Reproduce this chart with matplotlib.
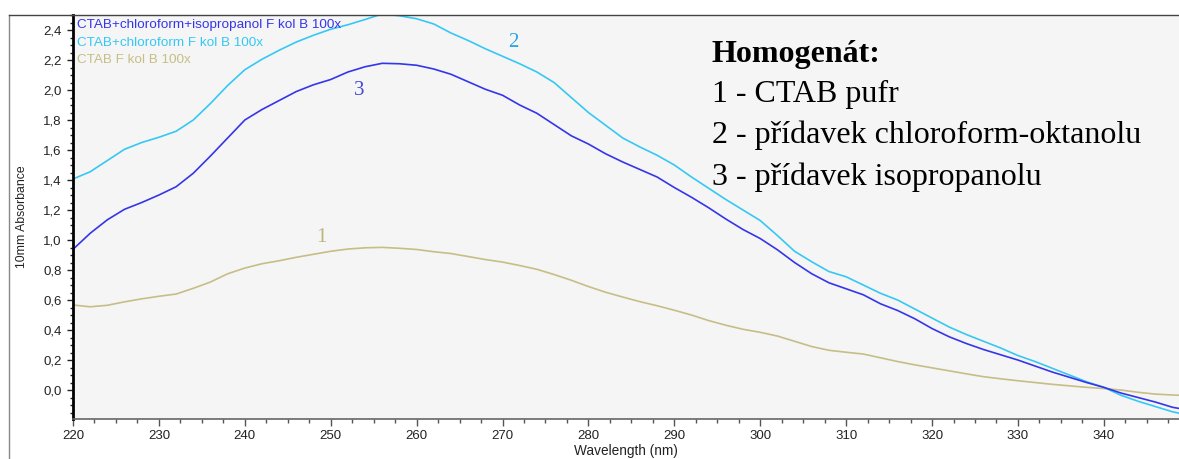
import matplotlib
matplotlib.use("Agg")
import matplotlib.pyplot as plt
from matplotlib.ticker import MultipleLocator, FuncFormatter
from matplotlib.lines import Line2D

wavelength = [220, 222, 224, 226, 228, 230, 232, 234, 236, 238, 240, 242, 244, 246, 248,
              250, 252, 254, 256, 258, 260, 262, 264, 266, 268, 270, 272, 274, 276, 278,
              280, 282, 284, 286, 288, 290, 292, 294, 296, 298, 300, 302, 304, 306, 308,
              310, 312, 314, 316, 318, 320, 322, 324, 326, 328, 330, 332, 334, 336, 338,
              340, 342, 344, 346, 348, 349]

chloroform = [1.407, 1.455, 1.53, 1.605, 1.65, 1.685, 1.725, 1.80, 1.91, 2.03, 2.135, 2.205,
              2.265, 2.32, 2.365, 2.405, 2.435, 2.47, 2.507, 2.495, 2.475, 2.44, 2.38, 2.33,
              2.275, 2.225, 2.175, 2.12, 2.05, 1.95, 1.85, 1.765, 1.68, 1.62, 1.565, 1.50,
              1.42, 1.345, 1.27, 1.20, 1.13, 1.03, 0.925, 0.855, 0.79, 0.755, 0.70, 0.645,
              0.60, 0.54, 0.48, 0.42, 0.37, 0.325, 0.28, 0.23, 0.19, 0.145, 0.10, 0.055,
              0.018, -0.035, -0.075, -0.11, -0.145, -0.157]

isopropanol = [0.938, 1.045, 1.135, 1.205, 1.25, 1.30, 1.355, 1.445, 1.56, 1.68, 1.80, 1.87,
               1.93, 1.99, 2.035, 2.07, 2.12, 2.155, 2.178, 2.175, 2.165, 2.14, 2.105, 2.055,
               2.005, 1.965, 1.90, 1.845, 1.77, 1.695, 1.64, 1.575, 1.52, 1.47, 1.42, 1.35,
               1.285, 1.215, 1.14, 1.07, 1.01, 0.935, 0.85, 0.775, 0.715, 0.675, 0.635, 0.575,
               0.53, 0.475, 0.41, 0.355, 0.31, 0.27, 0.235, 0.20, 0.16, 0.12, 0.085, 0.05,
               0.018, -0.02, -0.05, -0.08, -0.115, -0.125]

ctab = [0.567, 0.555, 0.565, 0.588, 0.608, 0.625, 0.64, 0.678, 0.72, 0.775, 0.813, 0.842,
        0.862, 0.885, 0.905, 0.925, 0.94, 0.948, 0.951, 0.945, 0.937, 0.922, 0.91, 0.89,
        0.87, 0.853, 0.83, 0.805, 0.77, 0.732, 0.69, 0.652, 0.62, 0.589, 0.562, 0.532,
        0.50, 0.463, 0.432, 0.405, 0.385, 0.36, 0.325, 0.29, 0.265, 0.252, 0.24, 0.215,
        0.19, 0.168, 0.148, 0.128, 0.108, 0.089, 0.075, 0.062, 0.05, 0.038, 0.028, 0.018,
        0.010, 0.0, -0.015, -0.027, -0.033, -0.035]

legend_labels = ["CTAB+chloroform+isopropanol F kol B 100x",
                 "CTAB+chloroform F kol B 100x",
                 "CTAB F kol B 100x"]
info_title = "Homogenát:"
info_lines = ["1 - CTAB pufr", "2 - přídavek chloroform-oktanolu", "3 - přídavek isopropanolu"]

c_blue = "#3535ea"
c_cyan = "#35c8f4"
c_khaki = "#c6be86"

W, H = 1179, 459
fig = plt.figure(figsize=(W / 100, H / 100), dpi=100)
fig.patch.set_facecolor("white")

ax = fig.add_axes([73 / W, 1 - 419 / H, (W - 73) / W, 404 / H])
ax.set_facecolor("#f5f5f5")

ax.plot(wavelength, ctab, color=c_khaki, lw=1.2)
ax.plot(wavelength, chloroform, color=c_cyan, lw=1.2)
ax.plot(wavelength, isopropanol, color=c_blue, lw=1.2)

ax.set_xlim(220, 348.75)
ax.set_ylim(-0.193, 2.5)

ax.xaxis.set_major_locator(MultipleLocator(10))
ax.xaxis.set_minor_locator(MultipleLocator(2.5))
ax.yaxis.set_major_locator(MultipleLocator(0.2))
ax.yaxis.set_minor_locator(MultipleLocator(0.05))
ax.yaxis.set_major_formatter(FuncFormatter(lambda v, p: f"{v:.1f}".replace(".", ",").replace("-0,0", "0,0")))

ax.tick_params(axis="x", which="major", direction="out", length=5, width=1, color="#555555",
               labelsize=9.5, pad=3, labelcolor="#222222")
ax.tick_params(axis="x", which="minor", direction="out", length=3, width=1, color="#555555")
ax.tick_params(axis="y", which="major", direction="out", length=4, width=1, color="#222222",
               labelsize=9.5, pad=4, labelcolor="#222222")
ax.tick_params(axis="y", which="minor", direction="out", length=2, width=1, color="#222222")

for lab in ax.get_xticklabels() + ax.get_yticklabels():
    lab.set_family("Liberation Sans")

ax.spines["left"].set_color("black")
ax.spines["left"].set_linewidth(2)
ax.spines["bottom"].set_color("#666666")
ax.spines["bottom"].set_linewidth(1.2)
ax.spines["top"].set_color("#444444")
ax.spines["top"].set_linewidth(1)
ax.spines["right"].set_visible(False)

ax.set_xlabel("Wavelength (nm)", fontsize=9.8, family="Liberation Sans", color="#222222", labelpad=1)
ax.set_ylabel("10mm Absorbance", fontsize=8.8, family="Liberation Sans", color="#222222", labelpad=11)

# outer frame line on the left
fig.add_artist(Line2D([9 / W, 9 / W], [0, 1 - 15 / H], transform=fig.transFigure, color="#888888", lw=1))
fig.add_artist(Line2D([9 / W, 73 / W], [1 - 15 / H, 1 - 15 / H], transform=fig.transFigure, color="#444444", lw=1))

# legend text lines
leg_colors = [c_blue, c_cyan, c_khaki]
for i, (t, c) in enumerate(zip(legend_labels, leg_colors)):
    fig.text(77 / W, 1 - (28.3 + 17.3 * i) / H, t, color=c, fontsize=9.7,
             family="Liberation Sans", va="baseline", ha="left")

# curve number labels
ax.text(271.3, 2.32, "2", color="#2aa6e0", fontsize=15, family="Liberation Serif", ha="center", va="center")
ax.text(253.3, 2.0, "3", color="#4646d8", fontsize=15, family="Liberation Serif", ha="center", va="center")
ax.text(248.9, 1.015, "1", color="#bdb57a", fontsize=15, family="Liberation Serif", ha="center", va="center")

# info text
fig.text(712 / W, 1 - 61.7 / H, info_title, fontsize=23, fontweight="bold", family="Liberation Serif",
         va="baseline", ha="left", color="black")
for i, t in enumerate(info_lines):
    fig.text(712 / W, 1 - (102 + 41.5 * i) / H, t, fontsize=23, family="Liberation Serif",
             va="baseline", ha="left", color="black")

fig.savefig("out.png", dpi=100, facecolor="white")
